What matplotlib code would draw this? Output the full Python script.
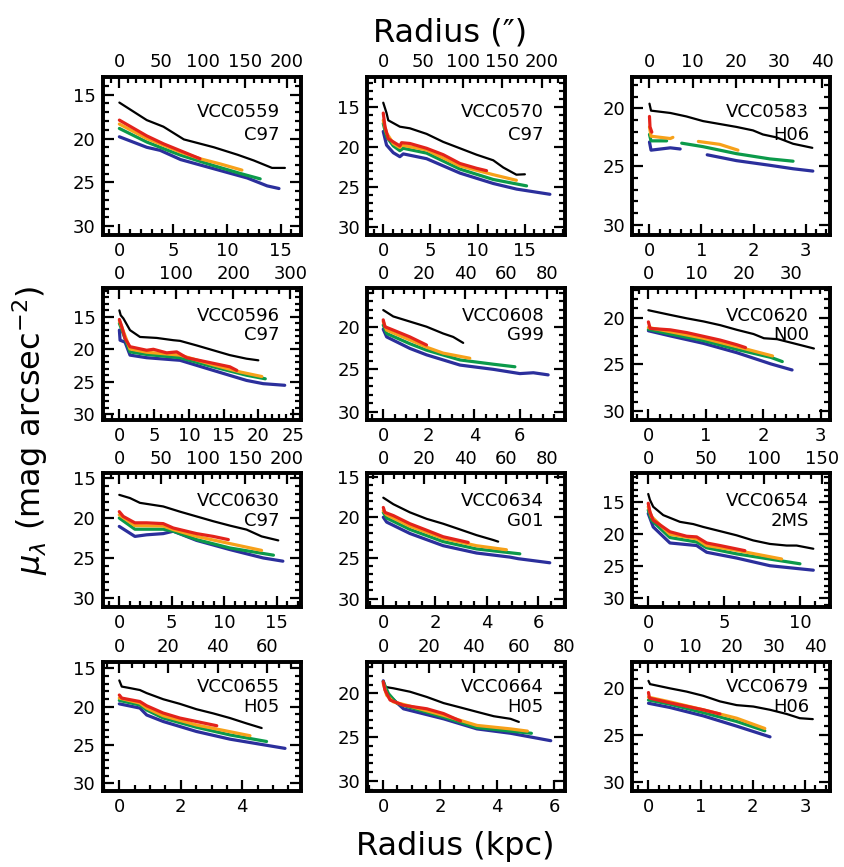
import numpy as np
import matplotlib
matplotlib.use("Agg")
import matplotlib.pyplot as plt
from matplotlib.ticker import MultipleLocator

nan = float("nan")

# ---------------- data (radius in kpc, surface brightness in mag/arcsec^2) ----------------
galaxies = ["VCC0559", "VCC0570", "VCC0583", "VCC0596", "VCC0608", "VCC0620",
            "VCC0630", "VCC0634", "VCC0654", "VCC0655", "VCC0664", "VCC0679"]
refs = ["C97", "C97", "H06", "C97", "G99", "N00", "C97", "G01", "2MS", "H05", "H05", "H06"]
kpc_per_arcsec = [0.078, 0.084, 0.083, 0.082, 0.090, 0.083, 0.080, 0.0795, 0.0765, 0.080, 0.0795, 0.080]

VCC0559 = {
    "k": ([0, 2.55, 4.1, 6.0, 8.8, 11.0, 12.5, 14.2, 15.4], [15.9, 17.9, 18.65, 20.1, 21.0, 21.85, 22.5, 23.35, 23.35]),
    "r": ([0, 2.55, 4.1, 5.7, 7.5], [17.9, 19.7, 20.6, 21.4, 22.3]),
    "o": ([0, 2.55, 5.7, 7.5, 9.4, 11.4], [18.35, 20.0, 21.55, 22.3, 22.9, 23.6]),
    "g": ([0, 2.55, 4.1, 5.7, 8.8, 11.3, 13.1], [18.85, 20.4, 21.15, 21.9, 23.1, 24.0, 24.6]),
    "b": ([0, 2.55, 3.8, 5.7, 8.8, 11.9, 13.75, 14.85], [19.8, 21.0, 21.35, 22.4, 23.45, 24.5, 25.4, 25.7]),
}
VCC0570 = {
    "k": ([0, 0.35, 0.53, 1.76, 2.82, 4.59, 6.35, 8.12, 9.88, 11.65, 12.71, 14.1, 15.0],
          [14.5, 15.8, 16.7, 17.5, 17.7, 18.4, 19.4, 20.2, 21.0, 21.7, 22.6, 23.5, 23.45]),
    "r": ([0, 0.18, 0.53, 1.06, 1.76, 1.94, 2.82, 4.59, 6.35, 8.12, 9.88, 10.94],
          [15.8, 17.5, 19.0, 19.4, 19.9, 19.5, 19.6, 20.2, 21.0, 22.1, 22.7, 23.0]),
    "o": ([0, 0.35, 1.06, 1.76, 1.94, 4.59, 8.12, 11.65, 14.1],
          [16.7, 18.3, 19.6, 20.1, 19.8, 20.4, 22.4, 23.5, 24.2]),
    "g": ([0, 0.35, 1.06, 1.76, 2.12, 4.59, 8.12, 11.65, 15.18],
          [17.1, 18.75, 19.9, 20.5, 20.2, 20.8, 22.8, 24.1, 24.9]),
    "b": ([0, 0.35, 1.06, 1.76, 2.12, 4.59, 8.12, 11.65, 14.12, 17.65],
          [18.1, 19.8, 20.75, 21.25, 20.9, 21.5, 23.3, 24.6, 25.3, 25.95]),
}
VCC0583 = {
    "k": ([0, 0.03, 0.40, 0.71, 1.03, 1.35, 1.67, 1.99, 2.18, 2.44, 2.76, 3.13],
          [19.6, 20.2, 20.4, 20.7, 21.1, 21.35, 21.6, 21.9, 22.25, 22.5, 23.05, 23.4]),
    "r": ([0, 0.01, 0.045], [20.7, 21.6, 22.05]),
    "o": ([0, 0.03, 0.40, 0.45, nan, 0.94, 1.35, 1.70], [21.6, 22.4, 22.6, 22.5, nan, 22.85, 23.1, 23.6]),
    "g": ([0, 0.03, 0.33, nan, 0.62, 1.03, 1.67, 2.31, 2.76], [22.25, 22.8, 22.8, nan, 23.0, 23.3, 23.9, 24.35, 24.55]),
    "b": ([0, 0.03, 0.40, 0.59, nan, 1.11, 1.67, 2.31, 2.76, 3.14], [22.9, 23.6, 23.4, 23.5, nan, 24.0, 24.5, 24.9, 25.2, 25.4]),
}
VCC0596 = {
    "k": ([0, 0.19, 0.58, 1.53, 2.97, 5.37, 7.77, 8.73, 11.1, 13.5, 15.9, 18.3, 20.0],
          [14.0, 14.75, 15.25, 17.05, 18.1, 18.25, 18.6, 18.7, 19.4, 20.15, 20.9, 21.45, 21.7]),
    "r": ([0, 0.34, 0.82, 1.53, 3.93, 4.89, 6.81, 8.25, 9.69, 12.57, 15.9, 16.9],
          [15.4, 16.5, 18.35, 19.6, 20.15, 20.0, 20.55, 20.4, 21.3, 21.95, 22.7, 23.25]),
    "o": ([0, 1.53, 3.93, 8.73, 13.5, 17.4, 20.5], [15.6, 19.95, 20.45, 20.9, 22.4, 23.5, 24.2]),
    "g": ([0, 1.53, 3.93, 8.73, 13.5, 18.3, 21.0], [16.0, 20.4, 20.8, 21.3, 22.7, 24.0, 24.55]),
    "b": ([0, 0.1, 0.82, 1.53, 3.93, 8.73, 13.5, 18.3, 20.7, 23.8],
          [17.05, 18.6, 18.9, 20.9, 21.3, 21.7, 23.25, 24.8, 25.3, 25.55]),
}
VCC0608 = {
    "k": ([0, 0.44, 1.17, 1.90, 2.63, 3.07, 3.51], [18.05, 18.8, 19.4, 20.0, 20.8, 21.2, 21.9]),
    "r": ([0, 0.07, 0.44, 1.17, 1.90], [19.2, 20.0, 20.4, 21.2, 22.15]),
    "o": ([0, 0.15, 1.17, 1.90, 2.63, 3.80], [19.4, 20.4, 21.55, 22.4, 23.1, 23.7]),
    "g": ([0, 0.15, 1.17, 1.90, 3.37, 4.83, 5.78], [19.8, 20.8, 22.0, 22.75, 23.9, 24.4, 24.7]),
    "b": ([0, 0.15, 1.17, 1.90, 3.37, 4.83, 6.0, 6.59, 7.24], [20.3, 21.2, 22.55, 23.3, 24.5, 25.0, 25.5, 25.4, 25.65]),
}
VCC0620 = {
    "k": ([0, 0.38, 0.67, 0.96, 1.25, 1.54, 1.83, 2.01, 2.24, 2.53, 2.88],
          [19.2, 19.7, 20.07, 20.4, 20.8, 21.3, 21.75, 22.2, 22.3, 22.75, 23.3]),
    "r": ([0, 0.03, 0.38, 0.67, 0.96, 1.25, 1.54, 1.69], [20.45, 21.15, 21.3, 21.6, 22.0, 22.4, 22.9, 23.2]),
    "o": ([0, 0.38, 0.96, 1.54, 2.16], [21.05, 21.5, 22.2, 23.1, 24.1]),
    "g": ([0, 0.38, 0.96, 1.54, 2.13, 2.33], [21.25, 21.75, 22.45, 23.4, 24.25, 24.7]),
    "b": ([0, 0.38, 0.96, 1.54, 2.13, 2.50], [21.4, 21.95, 22.75, 23.75, 24.95, 25.6]),
}
VCC0630 = {
    "k": ([0, 1.02, 1.97, 4.19, 5.78, 7.37, 8.96, 10.55, 12.14, 13.57, 15.16],
          [17.1, 17.5, 18.1, 18.55, 19.2, 19.8, 20.4, 20.95, 21.45, 22.3, 22.8]),
    "r": ([0, 0.38, 1.49, 2.61, 4.19, 5.15, 7.37, 8.96, 10.4], [19.2, 19.8, 20.6, 20.6, 20.7, 21.25, 21.95, 22.3, 22.7]),
    "o": ([0, 1.49, 4.19, 5.15, 7.37, 10.55, 13.57], [19.6, 20.95, 21.0, 21.45, 22.3, 23.2, 24.05]),
    "g": ([0, 1.49, 4.19, 5.15, 7.37, 10.55, 14.7], [20.0, 21.4, 21.4, 21.65, 22.7, 23.75, 24.65]),
    "b": ([0, 1.49, 2.61, 4.19, 5.15, 7.37, 10.55, 13.73, 15.6], [21.05, 22.3, 22.1, 21.95, 21.65, 22.8, 23.95, 25.0, 25.4]),
}
VCC0634 = {
    "k": ([0, 0.39, 1.03, 1.68, 2.32, 2.97, 3.61, 4.26, 4.45], [17.6, 18.4, 19.4, 20.2, 20.8, 21.5, 22.2, 22.8, 23.0]),
    "r": ([0, 0.06, 0.39, 1.03, 1.68, 2.32, 3.29], [18.8, 19.4, 19.8, 20.8, 21.6, 22.4, 23.1]),
    "o": ([0, 0.13, 1.03, 2.32, 3.61, 4.77], [19.2, 19.7, 21.1, 22.6, 23.5, 24.0]),
    "g": ([0, 0.13, 1.03, 2.32, 3.61, 5.29], [19.4, 20.1, 21.5, 23.0, 23.9, 24.5]),
    "b": ([0, 0.13, 1.03, 2.32, 3.61, 4.9, 5.23, 6.45], [20.0, 20.6, 22.0, 23.5, 24.4, 24.9, 25.1, 25.6]),
}
VCC0654 = {
    "k": ([0, 0.11, 0.33, 0.99, 2.09, 2.97, 3.63, 4.73, 5.82, 6.92, 8.02, 9.12, 9.78, 10.88],
          [13.7, 14.6, 15.7, 17.0, 18.05, 18.4, 18.85, 19.5, 20.15, 20.95, 21.5, 21.75, 21.75, 22.25]),
    "r": ([0, 0.11, 0.33, 1.43, 2.53, 3.19, 3.85, 4.73, 6.37], [15.15, 16.5, 17.8, 19.6, 20.3, 20.4, 21.35, 21.75, 22.55]),
    "o": ([0, 0.22, 1.43, 3.19, 3.85, 5.82, 8.79], [15.7, 17.25, 20.0, 20.7, 21.75, 22.5, 23.85]),
    "g": ([0, 0.22, 1.43, 3.19, 3.85, 5.82, 10.0], [16.2, 17.8, 20.5, 21.2, 22.1, 23.05, 24.6]),
    "b": ([0, 0.33, 1.43, 3.19, 3.85, 5.82, 8.02, 10.88], [16.75, 18.85, 21.35, 21.75, 22.8, 23.7, 24.9, 25.6]),
}
VCC0655 = {
    "k": ([0, 0.08, 0.35, 0.67, 0.89, 1.43, 1.97, 2.51, 3.06, 3.6, 4.14, 4.63],
          [16.6, 17.4, 17.6, 17.85, 18.25, 19.05, 19.65, 20.35, 20.9, 21.5, 22.2, 22.8]),
    "r": ([0, 0.08, 0.67, 0.89, 1.43, 1.97, 2.51, 3.17], [18.5, 18.9, 19.35, 19.9, 20.85, 21.5, 21.95, 22.5]),
    "o": ([0, 0.67, 0.89, 1.43, 2.51, 4.25], [18.9, 19.55, 20.2, 21.2, 22.4, 23.8]),
    "g": ([0, 0.67, 0.89, 1.43, 2.51, 3.6, 4.79], [19.2, 19.8, 20.45, 21.5, 22.7, 23.7, 24.55]),
    "b": ([0, 0.67, 0.89, 1.43, 2.51, 3.6, 5.39], [19.65, 20.2, 21.1, 21.95, 23.25, 24.25, 25.45]),
}
VCC0664 = {
    "k": ([0, 0.06, 0.35, 0.94, 1.53, 2.12, 2.71, 3.29, 3.88, 4.47, 4.76],
          [18.65, 19.25, 19.4, 19.8, 20.4, 21.1, 21.6, 22.1, 22.6, 22.9, 23.25]),
    "r": ([0, 0.06, 0.24, 0.71, 1.53, 2.12, 2.71], [18.65, 19.6, 20.75, 21.35, 21.75, 22.3, 23.15]),
    "o": ([0, 0.12, 0.35, 0.94, 2.12, 3.29, 4.47, 5.06], [18.85, 20.2, 20.95, 21.45, 22.5, 23.65, 24.05, 24.3]),
    "g": ([0, 0.18, 0.47, 0.94, 2.12, 3.29, 4.47, 5.2], [18.65, 20.0, 21.1, 21.6, 22.7, 23.9, 24.3, 24.55]),
    "b": ([0, 0.12, 0.71, 2.12, 3.29, 4.47, 5.88], [18.55, 20.0, 21.75, 22.9, 24.05, 24.55, 25.4]),
}
VCC0679 = {
    "k": ([0, 0.03, 0.41, 0.73, 1.05, 1.37, 1.69, 2.01, 2.33, 2.65, 2.9, 3.15],
          [19.2, 19.55, 20.0, 20.35, 20.8, 21.4, 21.8, 21.95, 22.3, 22.75, 23.2, 23.3]),
    "r": ([0, 0.02, 0.41, 1.05, 1.37], [20.45, 21.05, 21.55, 22.3, 22.75]),
    "o": ([0, 0.41, 1.05, 1.69, 2.23], [20.95, 21.45, 22.3, 23.2, 24.3]),
    "g": ([0, 0.41, 1.05, 1.69, 2.23], [21.25, 21.7, 22.6, 23.55, 24.55]),
    "b": ([0, 0.41, 1.05, 1.69, 2.33], [21.6, 22.05, 22.95, 24.05, 25.2]),
}
profiles = [VCC0559, VCC0570, VCC0583, VCC0596, VCC0608, VCC0620,
            VCC0630, VCC0634, VCC0654, VCC0655, VCC0664, VCC0679]

# ---------------- styling / layout ----------------
band_colors = {"k": "#000000", "r": "#e3231b", "o": "#f7a11a", "g": "#0b9a4a", "b": "#2b2f9c"}
band_lw = {"k": 1.6, "r": 2.3, "o": 2.3, "g": 2.3, "b": 2.3}
band_order = ["k", "b", "g", "o", "r"]

W, H = 845, 867
cols_px = [(102.7, 300.7), (367.3, 565.0), (632.3, 830.0)]
rows_px = [(76.7, 235.0), (288.3, 420.0), (473.3, 606.7), (662.0, 791.0)]

xlims = [(-1.55, 16.87), (-1.69, 19.25), (-0.33, 3.47),
         (-2.4, 26.1), (-0.70, 7.98), (-0.28, 3.16),
         (-1.58, 17.3), (-0.62, 7.04), (-1.05, 11.98),
         (-0.54, 5.9), (-0.56, 6.38), (-0.31, 3.48)]
ylims = [(31.0, 12.95), (31.04, 11.25), (30.9, 17.28),
         (30.9, 10.6), (30.94, 15.5), (30.96, 16.85),
         (31.1, 14.4), (31.0, 14.6), (31.3, 10.47),
         (31.0, 14.2), (31.15, 16.4), (31.0, 17.18)]
xmaj = [5, 5, 1, 5, 2, 1, 5, 2, 5, 2, 2, 1]
xmin = [1, 1, 0.2, 1, 0.5, 0.2, 1, 0.5, 1, 0.5, 0.5, 0.2]
tmaj = [50, 50, 10, 100, 20, 10, 50, 20, 50, 20, 20, 10]
tmin = [10, 10, 2, 20, 5, 2, 10, 5, 10, 5, 5, 2]
label_off = [(35, 58), (28, 47), (28, 48), (25, 45)]

plt.rcParams["font.family"] = ["DejaVu Sans"]
fig = plt.figure(figsize=(W / 100, H / 100), dpi=100)

for i, name in enumerate(galaxies):
    r_i, c_i = divmod(i, 3)
    x0, x1 = cols_px[c_i]
    y0, y1 = rows_px[r_i]
    ax = fig.add_axes([x0 / W, 1 - y1 / H, (x1 - x0) / W, (y1 - y0) / H])
    prof = profiles[i]
    for band in band_order:
        rr, mm = prof[band]
        ax.plot(rr, mm, color=band_colors[band], lw=band_lw[band], solid_capstyle="round")
    ax.set_xlim(*xlims[i])
    ax.set_ylim(*ylims[i])
    ax.xaxis.set_major_locator(MultipleLocator(xmaj[i]))
    ax.xaxis.set_minor_locator(MultipleLocator(xmin[i]))
    ax.yaxis.set_major_locator(MultipleLocator(5))
    ax.yaxis.set_minor_locator(MultipleLocator(1))
    ax.tick_params(which="both", direction="in", top=False, right=True, width=1.6, labelsize=13, pad=5)
    ax.tick_params(which="major", length=8)
    ax.tick_params(which="minor", length=4)
    for sp in ax.spines.values():
        sp.set_linewidth(2.6)

    f = kpc_per_arcsec[i]
    ax2 = ax.twiny()
    ax2.set_xlim(xlims[i][0] / f, xlims[i][1] / f)
    ax2.xaxis.set_major_locator(MultipleLocator(tmaj[i]))
    ax2.xaxis.set_minor_locator(MultipleLocator(tmin[i]))
    ax2.tick_params(which="both", direction="in", width=1.6, labelsize=13, pad=4)
    ax2.tick_params(which="major", length=8)
    ax2.tick_params(which="minor", length=4)
    for sp in ax2.spines.values():
        sp.set_linewidth(2.6)

    hpx = y1 - y0
    wpx = x1 - x0
    o1, o2 = label_off[r_i]
    xt = 1 - 21 / wpx
    ax.text(xt, 1 - o1 / hpx, name, transform=ax.transAxes, ha="right", va="center", fontsize=13)
    ax.text(xt, 1 - o2 / hpx, refs[i], transform=ax.transAxes, ha="right", va="center", fontsize=13)

fig.text(450 / W, 1 - 33 / H, "Radius (\u2033)", ha="center", va="center", fontsize=23)
fig.text(455 / W, 1 - 846 / H, "Radius (kpc)", ha="center", va="center", fontsize=23)
fig.text(30 / W, 1 - 430 / H, r"$\mu_\lambda$ (mag arcsec$^{-2}$)", ha="center", va="center",
         rotation=90, fontsize=23)

fig.savefig("out.png", dpi=100)
